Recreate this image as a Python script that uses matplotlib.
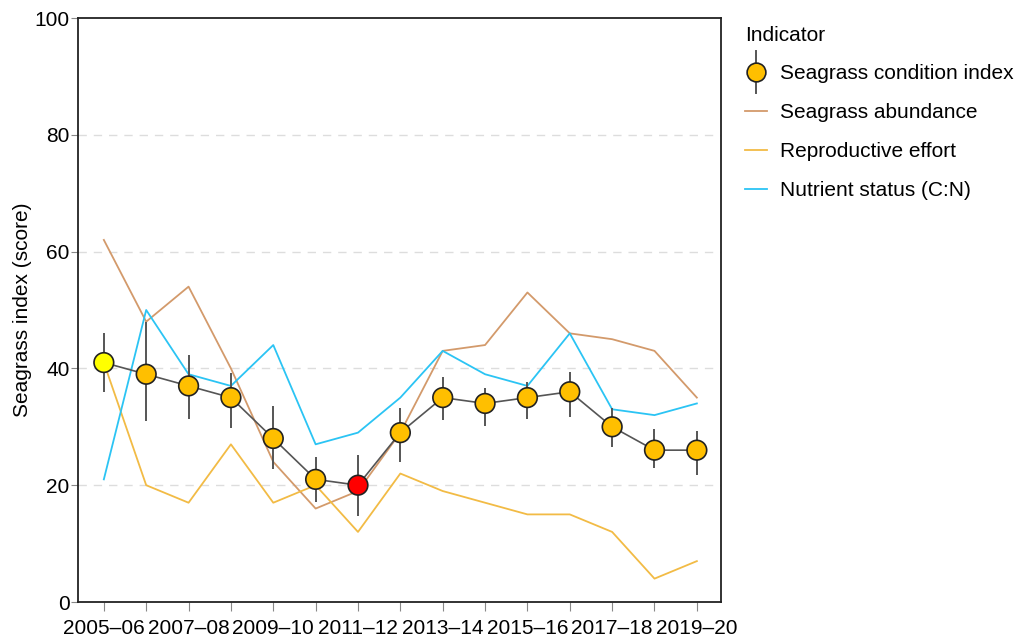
import matplotlib
matplotlib.use("Agg")
import matplotlib.pyplot as plt
import numpy as np
from matplotlib.lines import Line2D
from matplotlib.legend_handler import HandlerBase

plt.rcParams['font.family'] = ['Liberation Sans', 'DejaVu Sans']

years = ["2005–06", "2006–07", "2007–08", "2008–09", "2009–10", "2010–11", "2011–12",
         "2012–13", "2013–14", "2014–15", "2015–16", "2016–17", "2017–18", "2018–19", "2019–20"]
condition = [41, 39, 37, 35, 28, 21, 20, 29, 35, 34, 35, 36, 30, 26, 26]
cond_low = [36, 31, 31.3, 29.8, 22.8, 17.1, 14.7, 23.9, 31.1, 30.1, 31.3, 31.6, 26.5, 23.0, 21.7]
cond_high = [46.1, 47.9, 42.3, 39.2, 33.5, 24.8, 25.1, 33.2, 38.5, 36.6, 37.6, 39.3, 33.2, 29.7, 29.3]
abundance = [62, 48, 54, 40, 24, 16, 19, 29, 43, 44, 53, 46, 45, 43, 35]
reproductive = [41, 20, 17, 27, 17, 20, 12, 22, 19, 17, 15, 15, 12, 4, 7]
nutrient = [21, 50, 39, 37, 44, 27, 29, 35, 43, 39, 37, 46, 33, 32, 34]
point_colors = ["#FFFF00", "#FFBF00", "#FFBF00", "#FFBF00", "#FFBF00", "#FFBF00", "#FF0000",
                "#FFBF00", "#FFBF00", "#FFBF00", "#FFBF00", "#FFBF00", "#FFBF00", "#FFBF00", "#FFBF00"]

x = np.arange(len(years))
cond = np.array(condition)
err = np.vstack([cond - np.array(cond_low), np.array(cond_high) - cond])

fig = plt.figure(figsize=(10.21, 6.37), dpi=100)
ax = fig.add_axes([78/1021, 35/637, (721-78)/1021, (602-18)/637])

ax.plot(x, abundance, color="#D39A6B", lw=1.3, label="Seagrass abundance", zorder=2)
ax.plot(x, reproductive, color="#F2BB45", lw=1.3, label="Reproductive effort", zorder=2)
ax.plot(x, nutrient, color="#2BC4F4", lw=1.3, label="Nutrient status (C:N)", zorder=2)

ax.plot(x, cond, color="#555555", lw=1.2, zorder=3)
ax.errorbar(x, cond, yerr=err, fmt='none', ecolor="#555555", elinewidth=1.4, capsize=0, zorder=3)
ax.scatter(x, cond, s=200, c=point_colors, edgecolors="#222222", linewidths=1.2, zorder=4)


class MarkerWithBar(HandlerBase):
    def create_artists(self, legend, orig_handle, xdescent, ydescent, width, height, fontsize, trans):
        cx = width / 2 - xdescent
        cy = height / 2 - ydescent
        bar = Line2D([cx, cx], [cy - 1.45 * height, cy + 1.45 * height], color="#555555", lw=1.4, transform=trans)
        mk = Line2D([cx], [cy], marker='o', markersize=13.5, markerfacecolor="#FFBF00",
                    markeredgecolor="#222222", markeredgewidth=1.2, linestyle='none', transform=trans)
        return [bar, mk]


proxy = Line2D([], [], label="Seagrass condition index")
h, l = ax.get_legend_handles_labels()
handles = [proxy] + h
labels = ["Seagrass condition index"] + l
leg = ax.legend(handles, labels, title="Indicator", loc="upper left",
                bbox_to_anchor=(1.008, 1.019), frameon=False, fontsize=15, title_fontsize=15,
                handlelength=1.06, handletextpad=0.63, labelspacing=0.95,
                handler_map={proxy: MarkerWithBar()})
leg._legend_box.align = "left"

ax.set_xlim(-0.61, 14.57)
ax.set_ylim(0, 100)
ax.set_xticks(x)
ax.set_xticklabels([y if i % 2 == 0 else "" for i, y in enumerate(years)], fontsize=15)
ax.set_yticks([0, 20, 40, 60, 80, 100])
ax.tick_params(axis='y', labelsize=15, length=5, pad=1, color="#888888")
ax.tick_params(axis='x', length=6.5, pad=5.5, color="#888888")
ax.set_ylabel("Seagrass index (score)", fontsize=15, labelpad=2)
for yv in [20, 40, 60, 80]:
    ax.axhline(yv, color="#DDDDDD", lw=1, ls=(0, (6, 5)), zorder=0)
for s in ax.spines.values():
    s.set_linewidth(1.3)
    s.set_color("#222222")

fig.savefig("out.png", dpi=100)
